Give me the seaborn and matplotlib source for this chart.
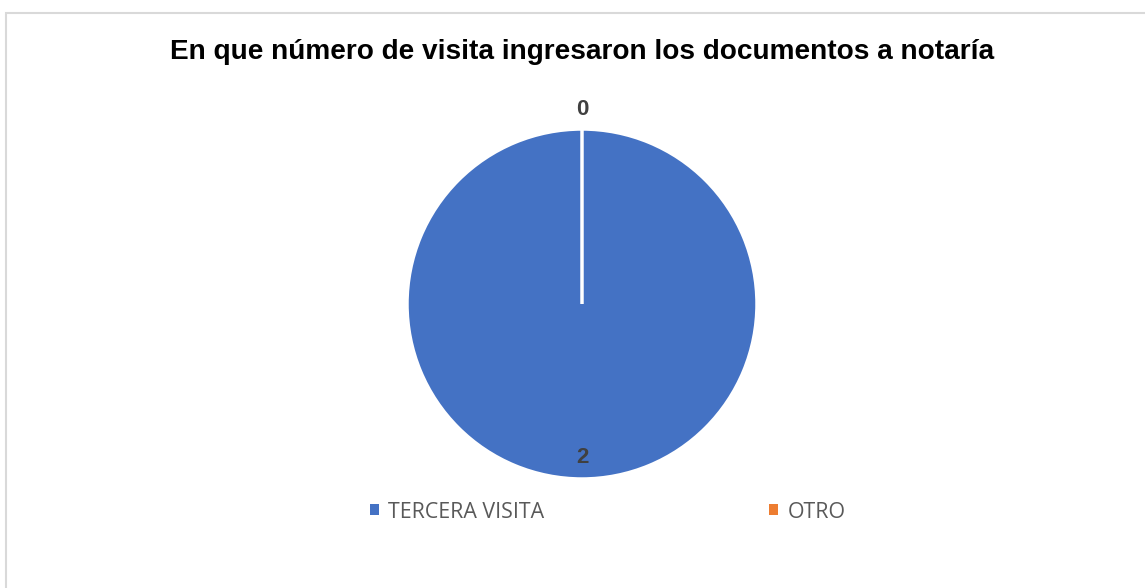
import numpy as np
import matplotlib
matplotlib.use("Agg")
import matplotlib.pyplot as plt
import seaborn as sns
from matplotlib.patches import Rectangle, Patch

# data
categories = ["TERCERA VISITA", "OTRO"]
values = [2, 0]
colors = ["#4472C4", "#ED7D31"]
title = "En que número de visita ingresaron los documentos a notaría"

sns.set_theme(style="white")
plt.rcParams["font.family"] = ["Liberation Sans", "DejaVu Sans"]

fig = plt.figure(figsize=(11.45, 5.88), dpi=100)
W, H = 1145, 588

# chart border (light gray, top/left visible)
fig.patches.append(Rectangle((5.5 / W, -0.1), 1.2, 1 - 13 / H + 0.1,
                             transform=fig.transFigure, fill=False,
                             edgecolor="#D9D9D9", linewidth=1.5))

palette = sns.color_palette(colors)
cx, cy, r = 582, 304, 175
ax = fig.add_axes([(cx - r) / W, 1 - (cy + r) / H, 2 * r / W, 2 * r / H])
wedges, _ = ax.pie(values, colors=palette, startangle=90,
                   counterclock=False, radius=1,
                   wedgeprops=dict(edgecolor="white", linewidth=2.5))
ax.set_xlim(-1, 1)
ax.set_ylim(-1, 1)
ax.set_aspect("equal")
ax.axis("off")

# data labels: inside for the full slice, outside for the empty one
for w, v in zip(wedges, values):
    ang = np.deg2rad((w.theta1 + w.theta2) / 2)
    dist = 0.88 if v > 0 else 1.11
    ax.text(dist * np.cos(ang), dist * np.sin(ang), f"{v}", ha="center",
            va="center", fontsize=16, fontweight="bold", color="#404040",
            clip_on=False)

fig.text(cx / W, 1 - 52 / H, title, ha="center", va="center",
         fontsize=20.2, fontweight="bold", color="black")

handles = [Patch(facecolor=c, edgecolor="none") for c in palette]
leg = fig.legend(handles, categories, loc="center", ncol=2,
                 bbox_to_anchor=(607.5 / W, 1 - 512 / H), frameon=False,
                 handlelength=0.42, handleheight=0.42, handletextpad=0.45,
                 columnspacing=10.5, prop={"family": "Open Sans", "size": 15.4})
for t in leg.get_texts():
    t.set_color("#595959")

fig.savefig("out.png", dpi=100)
